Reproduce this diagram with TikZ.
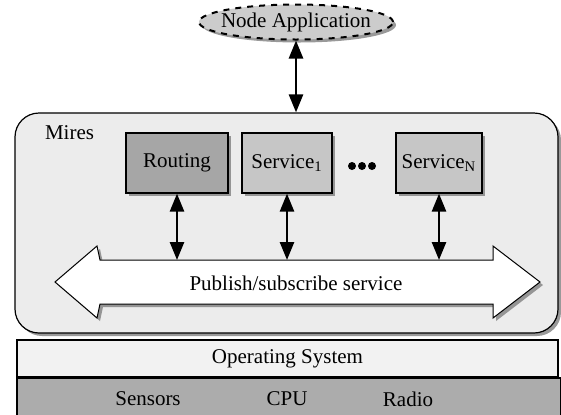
\documentclass[tikz,border=0pt]{standalone}
\usepackage{fontspec}
\setmainfont{Liberation Serif}
\usetikzlibrary{arrows.meta,shapes.geometric,shadows}
\begin{document}
\begin{tikzpicture}[
            x=0.5pt, y=-0.5pt,
            >={Triangle[width=7pt,length=9pt]}, % arrow tips
            font=\fontsize{10.5}{12.5}\selectfont,
            shade/.style={drop shadow={shadow xshift=1.5pt, shadow yshift=-1.5pt, fill=gray, opacity=0.8}},
            layer/.style={draw, line width=0.6pt, minimum height=30pt, inner sep=0pt, shade},
            link/.style={<->, line width=1.3pt},
            dot/.style={circle, fill=black, inner sep=0pt, minimum size=4pt}
        ]
        \useasboundingbox (0,0) rectangle (561,414);

        % node application
        \node[ellipse, draw, dashed, line width=1pt, fill=gray!40, minimum width=97pt, minimum height=17.5pt,
              inner xsep=-4.5pt, inner ysep=0pt, shade]
            (app) at (296,22) {Node Application};

        % Mires frame
        \node[draw, line width=0.6pt, rounded corners=12pt, fill=gray!15, minimum width=271.5pt, minimum height=110pt, shade]
            (mires) at (286.5,223) {};
        \node[anchor=west] (miresname) at (38,133) {Mires};
        \draw[link] (app.south) -- (app.south |- mires.north);

        % services
        \node[layer, fill=gray!70, minimum width=51pt] (routing) at (177,163) {Routing};
        \node[layer, fill=gray!45, minimum width=45pt] (serviceA) at (287,163) {Service\textsubscript{1}};
        \node[layer, fill=gray!45, minimum width=43pt] (serviceN) at (439,163) {Service\textsubscript{N}};
        \foreach \i in {0,1,2}
            \node[dot] (dot\i) at (352+10*\i,166) {};

        % publish/subscribe arrow
        \coordinate (shaftL) at (100,260);
        \coordinate (shaftR) at (493,260);
        \draw[fill=white, line width=0.5pt, shade]
            (55,282) -- (97,246) -- (shaftL) -- (shaftR) -- (493,246) -- (540,282)
            -- (493,318) -- (493,304) -- (100,304) -- (97,318) -- cycle;
        \node (pubsub) at (296,283) {Publish/subscribe service};
        \draw[link] (routing.south) -- (routing.south |- shaftL);
        \draw[link] (serviceA.south) -- (serviceA.south |- shaftL);
        \draw[link] (serviceN.south) -- (serviceN.south |- shaftL);

        % operating system and hardware
        \node[draw, line width=1pt, fill=gray!10, minimum width=270.5pt, minimum height=18.5pt, inner sep=0pt]
            (os) at (287.5,358.5) {Operating System};
        \node[draw, line width=1pt, fill=gray!65, minimum width=272pt, minimum height=19pt, inner sep=0pt]
            (hw) at (289,397) {};
        \node (sensors) at (148,399) {Sensors};
        \node (cpu) at (287,399) {CPU};
        \node (radio) at (408,399) {Radio};
    \end{tikzpicture}
\end{document}
